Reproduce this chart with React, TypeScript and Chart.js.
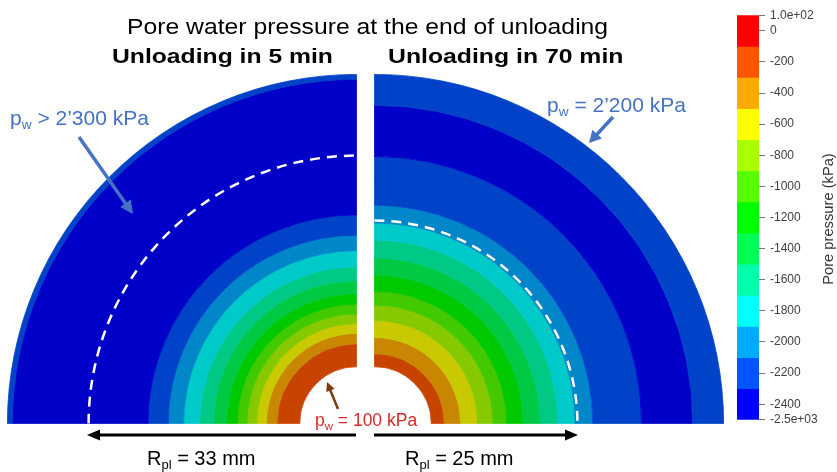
import React, { useEffect, useRef } from 'react';
import { Chart, registerables } from 'chart.js';
Chart.register(...registerables);

// ---- data (radii in mm, pressure levels in kPa) ----
const OUTER_MM = 43.0;
const INNER_MM = 7.0;

// Unloading in 5 min : band edges (mm) from hole outwards, and band level
const leftRadii = [7.0, 9.8, 11.1, 12.3, 13.5, 14.7, 16.0, 17.6, 19.3, 21.3, 23.2, 25.7, 42.4, 43.0];
const leftLevels = [-200, -400, -600, -800, -1000, -1200, -1400, -1600, -1800, -2000, -2200, -2400, -2200];
const leftRpl = 33;

// Unloading in 70 min
const rightRadii = [7.0, 8.6, 10.6, 12.7, 14.6, 16.3, 18.3, 20.4, 22.6, 24.7, 26.9, 32.9, 39.2, 43.0];
const rightLevels = [-200, -400, -600, -800, -1000, -1200, -1400, -1600, -1800, -2000, -2200, -2400, -2200];
const rightRpl = 25;

// colour bar
const barEdges = [100, -100, -300, -500, -700, -900, -1100, -1300, -1500, -1700, -1900, -2100, -2300, -2500];
const barColors = ['#FF0000', '#FF5500', '#FFAA00', '#FFFF00', '#AAFF00', '#55FF00', '#00FF00', '#00FF55', '#00FFAA', '#00FFFF', '#00AAFF', '#0055FF', '#0000FF'];
const tickValues = [100, 0, -200, -400, -600, -800, -1000, -1200, -1400, -1600, -1800, -2000, -2200, -2400, -2500];
const tickLabels = ['1.0e+02', '0', '-200', '-400', '-600', '-800', '-1000', '-1200', '-1400', '-1600', '-1800', '-2000', '-2200', '-2400', '-2.5e+03'];

const FONT = "'Liberation Sans', Arial, sans-serif";

function colorIndex(v: number) {
  for (let i = 0; i < barColors.length; i++) {
    if (v <= barEdges[i] && v > barEdges[i + 1]) return i;
  }
  return barColors.length - 1;
}
function shade(hex: string, f: number) {
  const n = parseInt(hex.slice(1), 16);
  const r = Math.round(((n >> 16) & 255) * f);
  const g = Math.round(((n >> 8) & 255) * f);
  const b = Math.round((n & 255) * f);
  return `rgb(${r},${g},${b})`;
}

const rplPlugin = {
  id: 'rplArc',
  afterDatasetsDraw(chart: any, _args: any, opts: any) {
    const arc = chart.getDatasetMeta(0).data[0];
    if (!arc) return;
    const { x, y, outerRadius, startAngle, endAngle } = arc.getProps(['x', 'y', 'outerRadius', 'startAngle', 'endAngle'], true);
    const r = (outerRadius * opts.rpl) / opts.outer;
    const ctx = chart.ctx;
    ctx.save();
    ctx.setLineDash([10, 7]);
    ctx.strokeStyle = '#ffffff';
    ctx.lineWidth = 2.5;
    ctx.beginPath();
    ctx.arc(x, y, r, startAngle, endAngle);
    ctx.stroke();
    ctx.restore();
  },
};

function Disk(props: { left: number; top: number; size: number; radii: number[]; levels: number[]; rpl: number; rotation: number }) {
  const ref = useRef<HTMLCanvasElement>(null);
  useEffect(() => {
    const { radii, levels } = props;
    const datasets: any[] = [];
    for (let i = levels.length - 1; i >= 0; i--) {
      const c = shade(barColors[colorIndex(levels[i])], 0.79);
      datasets.push({ data: [1], weight: radii[i + 1] - radii[i], backgroundColor: c, borderColor: c, borderWidth: 0.8 });
    }
    const chart = new Chart(ref.current as HTMLCanvasElement, {
      type: 'doughnut',
      data: { labels: ['band'], datasets },
      options: {
        responsive: false,
        animation: false,
        events: [],
        rotation: props.rotation,
        circumference: 90,
        cutout: `${(INNER_MM / OUTER_MM) * 100}%`,
        layout: { padding: 0 },
        plugins: {
          legend: { display: false },
          tooltip: { enabled: false },
          rplArc: { rpl: props.rpl, outer: OUTER_MM },
        } as any,
      },
      plugins: [rplPlugin],
    } as any);
    return () => chart.destroy();
  }, []);
  return (
    <canvas
      ref={ref}
      width={props.size}
      height={props.size}
      style={{ position: 'absolute', left: props.left, top: props.top, width: props.size, height: props.size }}
    />
  );
}

function ColorBar() {
  const ref = useRef<HTMLCanvasElement>(null);
  useEffect(() => {
    const datasets = barColors.map((c, i) => ({
      data: [[barEdges[i + 1], barEdges[i]]],
      backgroundColor: c,
      borderWidth: 0,
      barPercentage: 1,
      categoryPercentage: 1,
      grouped: false,
    }));
    const chart = new Chart(ref.current as HTMLCanvasElement, {
      type: 'bar',
      data: { labels: [''], datasets },
      options: {
        responsive: false,
        animation: false,
        events: [],
        layout: { padding: { top: 10, bottom: 10, left: 0, right: 0 } },
        plugins: { legend: { display: false }, tooltip: { enabled: false } },
        scales: {
          x: { display: false },
          y: {
            position: 'right',
            min: -2500,
            max: 100,
            afterBuildTicks: (scale: any) => {
              scale.ticks = tickValues.map((v) => ({ value: v }));
            },
            afterFit: (scale: any) => {
              scale.width = 78;
            },
            ticks: {
              autoSkip: false,
              padding: 5,
              color: '#404040',
              font: { family: FONT, size: 12 },
              callback: (v: any) => {
                const i = tickValues.indexOf(Number(v));
                return i >= 0 ? tickLabels[i] : '';
              },
            },
            grid: { display: true, drawOnChartArea: false, drawTicks: true, tickLength: 6, color: '#777' },
            border: { display: false },
          },
        },
      },
    } as any);
    return () => chart.destroy();
  }, []);
  return <canvas ref={ref} width={100} height={429} style={{ position: 'absolute', left: 737, top: 3, width: 100, height: 429 }} />;
}

function Txt(props: { x: number; base: number; size: number; color?: string; bold?: boolean; sx?: number; children: any }) {
  const top = props.base - 0.8465 * props.size;
  return (
    <div
      style={{
        position: 'absolute',
        left: props.x,
        top,
        fontFamily: FONT,
        fontSize: props.size,
        lineHeight: `${props.size}px`,
        fontWeight: props.bold ? 700 : 400,
        color: props.color || '#000',
        whiteSpace: 'nowrap',
        transform: `scaleX(${props.sx || 1})`,
        transformOrigin: 'left center',
      }}
    >
      {props.children}
    </div>
  );
}

const Sub = (p: { children: any }) => (
  <span style={{ fontSize: '0.65em', position: 'relative', top: '0.3em', lineHeight: 0 }}>{p.children}</span>
);

function Arrow(p: { x1: number; y1: number; x2: number; y2: number; color: string; w: number; hl: number; hw: number }) {
  const dx = p.x2 - p.x1;
  const dy = p.y2 - p.y1;
  const L = Math.hypot(dx, dy);
  const ux = dx / L;
  const uy = dy / L;
  const bx = p.x2 - ux * p.hl;
  const by = p.y2 - uy * p.hl;
  const px = -uy * p.hw;
  const py = ux * p.hw;
  return (
    <g>
      <line x1={p.x1} y1={p.y1} x2={bx + ux * 1} y2={by + uy * 1} stroke={p.color} strokeWidth={p.w} />
      <polygon points={`${p.x2},${p.y2} ${bx + px},${by + py} ${bx - px},${by - py}`} fill={p.color} />
    </g>
  );
}

export default function App() {
  const blue = '#4472C4';
  return (
    <div style={{ position: 'absolute', left: 0, top: 0, width: 837, height: 472, background: '#fff', overflow: 'hidden' }}>
      <Disk left={7} top={74} size={350} radii={leftRadii} levels={leftLevels} rpl={leftRpl} rotation={-90} />
      <Disk left={374} top={74} size={350} radii={rightRadii} levels={rightLevels} rpl={rightRpl} rotation={0} />
      <ColorBar />
      <svg width={837} height={472} style={{ position: 'absolute', left: 0, top: 0, pointerEvents: 'none' }}>
        <Arrow x1={79} y1={137} x2={133} y2={214} color={blue} w={3.5} hl={13} hw={6.5} />
        <Arrow x1={613} y1={117} x2={589} y2={143} color={blue} w={3.5} hl={12} hw={6.5} />
        <Arrow x1={338} y1={409} x2={327} y2={382} color="#7B3A12" w={2.5} hl={9} hw={4.5} />
        <Arrow x1={356} y1={435} x2={87} y2={435} color="#000" w={3} hl={13} hw={5.5} />
        <Arrow x1={374} y1={435} x2={578} y2={435} color="#000" w={3} hl={13} hw={5.5} />
      </svg>
      <Txt x={127} base={35} size={22.5} sx={1.099}>Pore water pressure at the end of unloading</Txt>
      <Txt x={112} base={63} size={21} bold sx={1.176}>Unloading in 5 min</Txt>
      <Txt x={388} base={63} size={21} bold sx={1.18}>Unloading in 70 min</Txt>
      <Txt x={10} base={125} size={21} color={blue}>p<Sub>w</Sub> &gt; 2’300 kPa</Txt>
      <Txt x={547} base={112} size={21} color={blue}>p<Sub>w</Sub> = 2’200 kPa</Txt>
      <Txt x={315} base={427} size={17.5} color="#D42A2A">p<Sub>w</Sub> = 100 kPa</Txt>
      <Txt x={147} base={465} size={20}>R<Sub>pl</Sub> = 33 mm</Txt>
      <Txt x={405} base={465} size={20}>R<Sub>pl</Sub> = 25 mm</Txt>
      <div
        style={{
          position: 'absolute',
          left: 828,
          top: 219,
          fontFamily: FONT,
          fontSize: 14,
          lineHeight: '14px',
          color: '#333',
          whiteSpace: 'nowrap',
          transform: 'translate(-50%, -50%) rotate(-90deg) scaleX(1.05)',
        }}
      >
        Pore pressure (kPa)
      </div>
    </div>
  );
}
